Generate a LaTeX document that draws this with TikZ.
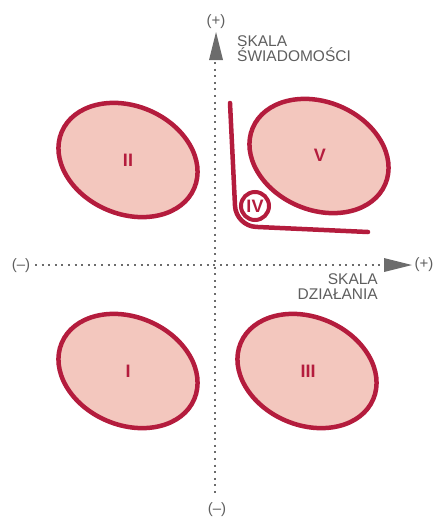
\documentclass[tikz,border=0pt]{standalone}
\usepackage{fontspec}
\setmainfont{Liberation Sans}
\definecolor{crimson}{HTML}{B41C3D}
\definecolor{blush}{HTML}{F3C7BE}
\definecolor{axisgrey}{HTML}{6C6C6C}
\definecolor{labelgrey}{HTML}{5E5E5E}
\begin{document}
\begin{tikzpicture}[x=1pt,y=-1pt,
  zone/.style={draw=crimson, fill=blush, line width=4.5pt},
  numeral/.style={text=crimson, font=\bfseries\fontsize{18}{18}\selectfont, inner sep=0pt},
  axislabel/.style={text=labelgrey, font=\fontsize{15.5}{14.5}\selectfont, inner sep=0pt},
  sign/.style={text=labelgrey, font=\fontsize{15}{15}\selectfont, inner sep=0pt},
  dots/.style={axisgrey, line width=1.6pt, dash pattern=on 2pt off 4.6pt},
  tiphead/.style={fill=axisgrey},
  cornerline/.style={draw=crimson, line width=4.5pt, rounded corners=20pt, line cap=round}
]
\useasboundingbox (0,0) rectangle (434,520);

% end labels of the two scales
\node[sign] (ypos) at (216,22) {(+)};
\node[sign] (yneg) at (217,510) {(–)};
\node[sign] (xneg) at (21,266) {(–)};
\node[sign] (xpos) at (424,265) {(+)};

% dotted axes with their arrow heads
\coordinate (ytop) at (215,62);
\coordinate (ybot) at (215,496);
\coordinate (xleft) at (35,265);
\coordinate (xright) at (383,265);
\draw[dots] (ytop) -- (ybot);
\draw[dots] (xleft) -- (xright);
\fill[tiphead] (216,32) -- (223,60) -- (209,60) -- cycle;
\fill[tiphead] (412,265) -- (384,258) -- (384,272) -- cycle;

% axis names
\node[axislabel, align=left, anchor=north west] (sk) at (237,35.5) {SKALA\\ŚWIADOMOŚCI};
\node[axislabel, align=right, anchor=north east] (dz) at (378,273.5) {SKALA\\DZIAŁANIA};

% the four oval zones
\foreach \cx/\cy in {128/160, 128/371, 307/371, 319/156}
  \draw[zone, shift={(\cx,\cy)}, rotate=-23] (0,0) ellipse [x radius=72pt, y radius=54pt];

\node[numeral] (z2) at (128,160) {II};
\node[numeral] (z1) at (128,371) {I};
\node[numeral] (z3) at (308,371) {III};
\node[numeral] (z5) at (320,155) {V};

% zone IV: small circle in the bend of the corner line
\coordinate (bt) at (230,103);
\coordinate (bc) at (236,226);
\coordinate (be) at (368,232);
\draw[cornerline] (bt) -- (bc) -- (be);
\node[numeral, draw=crimson, line width=4pt, fill=white, circle, minimum size=28pt] (z4) at (255,206) {IV};
\end{tikzpicture}
\end{document}
